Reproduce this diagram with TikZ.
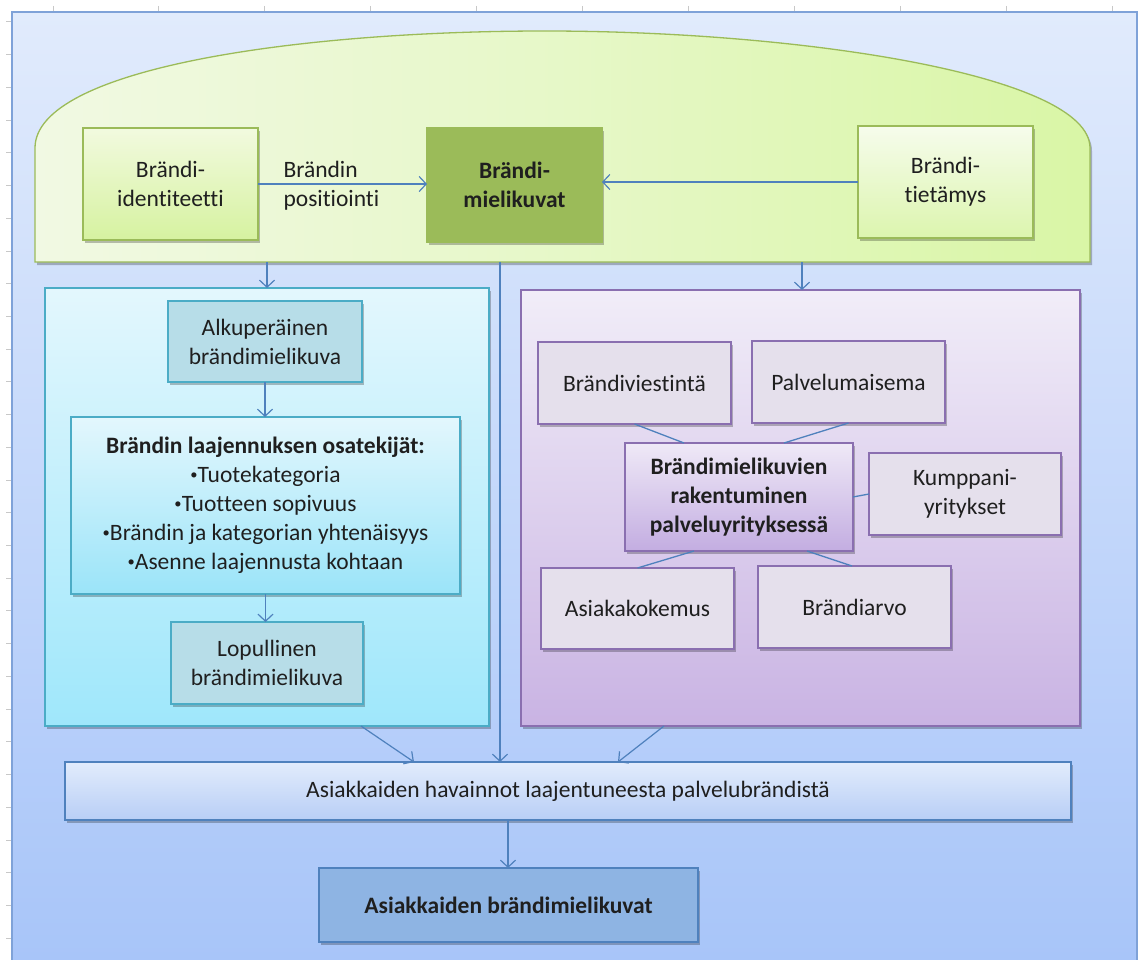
\documentclass[tikz,border=0pt]{standalone}
\usepackage{fontspec}
\setmainfont{Carlito}[Ligatures=NoCommon]
\usetikzlibrary{arrows.meta,shadows,calc}

\definecolor{frameTop}{HTML}{E1EBFC}
\definecolor{frameBot}{HTML}{A8C5F9}
\definecolor{frameLine}{HTML}{7FA2D8}
\definecolor{arrowBlue}{HTML}{4F81BD}
\definecolor{grnLine}{HTML}{9BBB59}
\definecolor{grnDark}{HTML}{9BBB59}
\definecolor{grnPaleL}{HTML}{F1F9E3}
\definecolor{grnPaleR}{HTML}{D9F6A6}
\definecolor{grnBoxTop}{HTML}{F2FADF}
\definecolor{grnBoxBot}{HTML}{D6F2A0}
\definecolor{grnBox2Top}{HTML}{F6FCEC}
\definecolor{grnBox2Bot}{HTML}{DCF5AE}
\definecolor{cyLine}{HTML}{4BACC6}
\definecolor{cyTop}{HTML}{E3F7FD}
\definecolor{cyBot}{HTML}{9FE7FB}
\definecolor{cyBox}{HTML}{B7DDE8}
\definecolor{puLine}{HTML}{8A6FB0}
\definecolor{puTop}{HTML}{F1EDF8}
\definecolor{puBot}{HTML}{C9B3E3}
\definecolor{puBox}{HTML}{E5E0EC}
\definecolor{puMidTop}{HTML}{EFE9F7}
\definecolor{puMidBot}{HTML}{C3ADE1}
\definecolor{hvTop}{HTML}{E2ECFC}
\definecolor{hvBot}{HTML}{B8CEF6}
\definecolor{finBox}{HTML}{8EB4E3}
\definecolor{tickGray}{HTML}{C8C8C8}

\newcommand{\txt}{\fontsize{23.5}{29}\selectfont}
\newcommand{\bul}{\raisebox{0.13em}{\scalebox{0.62}{•}}}

\tikzset{
  box/.style={draw, line width=1.3pt, align=center, inner sep=0pt, outer sep=0pt,
    font=\txt, text=black!88,
    drop shadow={shadow xshift=2pt, shadow yshift=-3pt, opacity=0.25, fill=black}},
  panel/.style={draw, line width=1.4pt, inner sep=0pt, outer sep=0pt,
    drop shadow={shadow xshift=2pt, shadow yshift=-3pt, opacity=0.25, fill=black}},
  arr/.style={draw=arrowBlue, line width=1.2pt, -{Straight Barb[length=7pt,width=15pt,line width=1.2pt]}},
  link/.style={draw=arrowBlue, line width=1.3pt},
}

\begin{document}
\begin{tikzpicture}[x=1pt,y=-1pt]
\useasboundingbox (0,0) rectangle (1138,960);
\fill[white] (0,0) rectangle (1138,960);

% spreadsheet grid ticks in the margin
\foreach \k in {0,...,10} \draw[tickGray, line width=1pt] (53+105.9*\k,6) -- (53+105.9*\k,12);
\foreach \k in {0,...,28} \draw[tickGray, line width=1pt] (6,22+32.72*\k) -- (12,22+32.72*\k);

% background frame
\shade[top color=frameTop, bottom color=frameBot] (12,12) rectangle (1137,960);
\draw[frameLine, line width=1.2pt] (12,960) -- (12,12) -- (1137,12) -- (1137,960);

% rounded-top green area
\path[drop shadow={shadow xshift=2pt, shadow yshift=-3pt, opacity=0.25, fill=black}]
  (35,262) -- (35,148) .. controls (35,68) and (300,31) .. (545,31)
  .. controls (800,31) and (1090,75) .. (1090,148) -- (1090,262) -- cycle;
\shade[left color=grnPaleL, right color=grnPaleR, middle color=grnPaleL!55!grnPaleR]
  (35,262) -- (35,148) .. controls (35,68) and (300,31) .. (545,31)
  .. controls (800,31) and (1090,75) .. (1090,148) -- (1090,262) -- cycle;
\draw[grnLine, line width=1.3pt]
  (35,262) -- (35,148) .. controls (35,68) and (300,31) .. (545,31)
  .. controls (800,31) and (1090,75) .. (1090,148) -- (1090,262) -- cycle;
\coordinate (gl) at (267,262);
\coordinate (gm) at (500,262);
\coordinate (gr) at (802,262);

% top row
\node[box, draw=grnLine, top color=grnBoxTop, bottom color=grnBoxBot,
  minimum width=175pt, minimum height=112pt] (id) at (170.5,184) {Brändi-\\identiteetti};
\node[box, draw=grnDark, fill=grnDark, font=\txt\bfseries,
  minimum width=175pt, minimum height=114pt] (im) at (514.5,185) {Brändi-\\mielikuvat};
\node[box, draw=grnLine, top color=grnBox2Top, bottom color=grnBox2Bot,
  minimum width=175pt, minimum height=112pt] (tm) at (945.5,182) {Brändi-\\tietämys};
\node[font=\txt, text=black!88, align=left, anchor=west] (pos) at (280,186) {Brändin\\positiointi};

% left panel
\node[panel, draw=cyLine, top color=cyTop, bottom color=cyBot,
  minimum width=444pt, minimum height=438pt] (cy) at (267,507) {};
\node[box, draw=cyLine, fill=cyBox, minimum width=194pt, minimum height=81pt]
  (alku) at (265,341.5) {Alkuperäinen\\brändimielikuva};
\node[box, draw=cyLine, top color=cyTop, bottom color=cyBot!95!cyLine,
  minimum width=389pt, minimum height=177pt] (laaj) at (265.5,505.5)
  {\textbf{Brändin laajennuksen osatekijät:}\\\bul Tuotekategoria\\\bul Tuotteen sopivuus\\\bul Brändin ja kategorian yhtenäisyys\\\bul Asenne laajennusta kohtaan};
\node[box, draw=cyLine, fill=cyBox, minimum width=192pt, minimum height=82pt]
  (lop) at (267,663) {Lopullinen\\brändimielikuva};

% right panel
\node[panel, draw=puLine, top color=puTop, bottom color=puBot,
  minimum width=559pt, minimum height=436pt] (pu) at (800.5,508) {};
\node[box, draw=puLine, fill=puBox, minimum width=193pt, minimum height=82pt]
  (viest) at (634.5,383) {Brändiviestintä};
\node[box, draw=puLine, fill=puBox, minimum width=193pt, minimum height=82pt]
  (palv) at (848.5,382) {Palvelumaisema};
\node[box, draw=puLine, top color=puMidTop, bottom color=puMidBot, font=\txt\bfseries,
  minimum width=228pt, minimum height=108pt]
  (rak) at (739,497) {Brändimielikuvien\\rakentuminen\\palveluyrityksessä};
\node[box, draw=puLine, fill=puBox, minimum width=192pt, minimum height=82pt]
  (kump) at (965,494) {Kumppani-\\yritykset};
\node[box, draw=puLine, fill=puBox, minimum width=193pt, minimum height=81pt]
  (asiak) at (637.5,608.5) {Asiakakokemus};
\node[box, draw=puLine, fill=puBox, minimum width=193pt, minimum height=82pt]
  (arvo) at (854.5,607) {Brändiarvo};

% bottom
\node[box, draw=arrowBlue, top color=hvTop, bottom color=hvBot,
  minimum width=1006pt, minimum height=58pt] (hav) at (568,791)
  {Asiakkaiden havainnot laajentuneesta palvelubrändistä};
\node[box, draw=arrowBlue, fill=finBox, font=\txt\bfseries,
  minimum width=379pt, minimum height=74pt] (fin) at (508.5,905)
  {Asiakkaiden brändimielikuvat};

% connectors
\draw[arr] (id.east) -- (id.east -| im.west);
\draw[arr] (tm.west) -- (tm.west -| im.east);
\draw[arr] (gl) -- (gl |- cy.north);
\draw[arr] (gr) -- (gr |- pu.north);
\draw[arr] (gm) -- (gm |- hav.north);
\draw[arr] (alku.south) -- (alku.south |- laaj.north);
\draw[arr] (laaj.south) -- (laaj.south |- lop.north);
\draw[arr] ([xshift=94pt]cy.south) -- ([xshift=-154pt]hav.north);
\draw[arr] ([xshift=-136.5pt]pu.south) -- ([xshift=50pt]hav.north);
\draw[arr] ([xshift=-60pt]hav.south) -- ([xshift=-60pt]hav.south |- fin.north);

\draw[link] (viest.south) -- ([xshift=-55pt]rak.north);
\draw[link] (palv.south) -- ([xshift=45pt]rak.north);
\draw[link] (rak.east) -- (kump.west);
\draw[link] ([xshift=-45pt]rak.south) -- (asiak.north);
\draw[link] ([xshift=68pt]rak.south) -- ([xshift=-2.5pt]arvo.north);
\end{tikzpicture}
\end{document}
